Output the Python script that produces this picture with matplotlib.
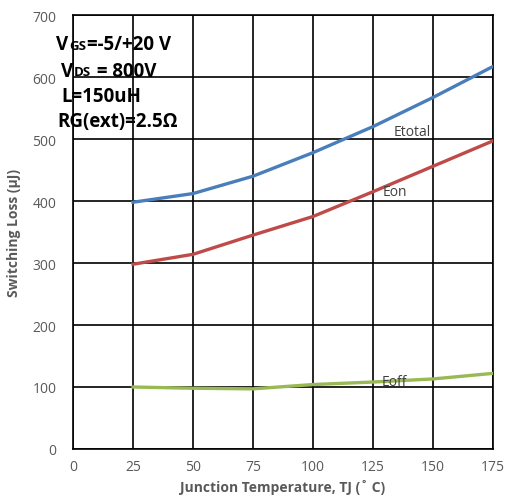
import matplotlib
matplotlib.use("Agg")
import matplotlib.pyplot as plt

# 데이터
temps = [25, 50, 75, 100, 125, 150, 175]
etotal = [398, 412, 440, 478, 520, 567, 617]
eon = [298, 314, 345, 375, 415, 456, 497]
eoff = [100, 98, 97, 104, 108, 113, 122]

x_ticks = [0, 25, 50, 75, 100, 125, 150, 175]
y_ticks = [0, 100, 200, 300, 400, 500, 600, 700]

plt.rcParams['font.family'] = ['Open Sans', 'DejaVu Sans']

fig = plt.figure(figsize=(5.08, 5.02), dpi=100)
ax = fig.add_axes([73 / 508, 52 / 502, 420 / 508, 434 / 502])

ax.plot(temps, etotal, color="#4a7ebb", lw=2.4, zorder=3)
ax.plot(temps, eon, color="#be4b48", lw=2.4, zorder=3)
ax.plot(temps, eoff, color="#98b954", lw=2.4, zorder=3)

ax.set_xlim(0, 175)
ax.set_ylim(0, 700)
ax.set_xticks(x_ticks)
ax.set_yticks(y_ticks)
ax.tick_params(length=0, labelsize=10, labelcolor="#595959")
ax.tick_params(axis="x", pad=7)
ax.tick_params(axis="y", pad=12)
ax.grid(True, color="black", lw=1.2)
ax.set_axisbelow(True)
for s in ax.spines.values():
    s.set_color("black")
    s.set_linewidth(1.2)

ax.set_xlabel("Junction Temperature, TJ (˚ C)", fontsize=10, fontweight="bold",
              color="#595959", labelpad=4)
ax.set_ylabel("Switching Loss (μJ)", fontsize=10, fontweight="bold",
              color="#595959", labelpad=8)

# 곡선 라벨
ax.text(141.5, 500, "Etotal", fontsize=10, color="#404040", ha="center", va="bottom", zorder=4)
ax.text(134, 403, "Eon", fontsize=10, color="#404040", ha="center", va="bottom", zorder=4)
ax.text(134, 97, "Eoff", fontsize=10, color="#404040", ha="center", va="bottom", zorder=4)

# 조건 텍스트 (픽셀 위치 -> figure 좌표)
def fx(px):
    return px / 508

def fy(py):
    return 1 - py / 502

big = dict(fontsize=13.5, fontweight="bold", color="black", va="center", ha="left")
small = dict(fontsize=9.5, fontweight="bold", color="black", va="center", ha="left")
fig.text(fx(56), fy(45), "V", **big)
fig.text(fx(69), fy(46), "GS", **small)
fig.text(fx(87), fy(45), "=-5/+20 V", **big)
fig.text(fx(61), fy(72), "V", **big)
fig.text(fx(74), fy(73), "DS", **small)
fig.text(fx(92), fy(72), " = 800V", **big)
fig.text(fx(61), fy(97), "L=150uH", **big)
fig.text(fx(57), fy(122), "RG(ext)=2.5Ω", **big)

fig.savefig("out.png", dpi=100)
